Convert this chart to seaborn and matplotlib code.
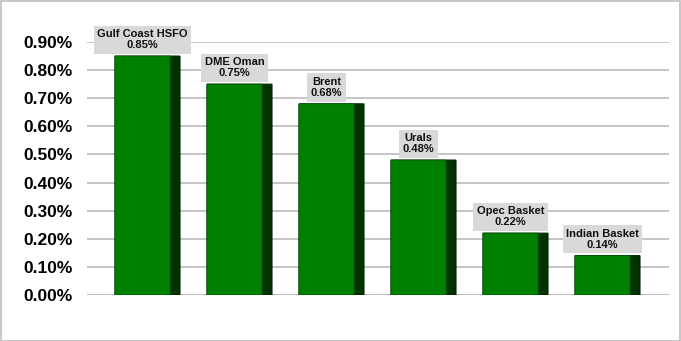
import matplotlib
matplotlib.use("Agg")
import matplotlib.pyplot as plt
import seaborn as sns
import pandas as pd
from matplotlib.patches import Rectangle, FancyBboxPatch
from matplotlib.ticker import FuncFormatter

categories = ["Gulf Coast HSFO", "DME Oman", "Brent", "Urals", "Opec Basket", "Indian Basket"]
values = [0.85, 0.75, 0.68, 0.48, 0.22, 0.14]
yticks = [0.0, 0.1, 0.2, 0.3, 0.4, 0.5, 0.6, 0.7, 0.8, 0.9]

sns.set_theme(style="white")
plt.rcParams['font.family'] = ['Liberation Sans', 'DejaVu Sans']

df = pd.DataFrame({"cat": categories, "val": values})

fig = plt.figure(figsize=(6.81, 3.41), dpi=100)
ax = fig.add_axes([87/681, 1-295/341, (669-87)/681, (295-42)/341])

full_w = 65/92
front_w = 55/92
sns.barplot(data=df, x="cat", y="val", color="#003300", width=full_w,
            saturation=1, ax=ax, zorder=3)

for p, v, lab in zip(ax.patches, values, categories):
    x0 = p.get_x()
    h = p.get_height()
    p.set_visible(False)
    ax.add_patch(FancyBboxPatch((x0, 0), full_w, h,
                                boxstyle="round,pad=0,rounding_size=0.05",
                                mutation_aspect=0.004,
                                facecolor="#003300", edgecolor="#002200",
                                linewidth=0.8, zorder=3))
    ax.add_patch(FancyBboxPatch((x0, 0), front_w, h,
                                boxstyle="round,pad=0,rounding_size=0.04",
                                mutation_aspect=0.004,
                                facecolor="#008000", edgecolor="#006000",
                                linewidth=0.6, zorder=4))
    cx = x0 + front_w/2
    ax.text(cx, h + 0.058, f"{lab}\n{v:.2f}%", ha="center", va="center",
            fontsize=8, fontweight="bold", color="#111111", linespacing=1.15,
            bbox=dict(boxstyle="square,pad=0.32", facecolor="#d9d9d9", edgecolor="none"),
            clip_on=False, zorder=5)

ax.set_xlim((87-147.5)/92, 5 + (669-607.5)/92)
ax.set_ylim(0, 0.9)
ax.set_yticks(yticks)
ax.yaxis.set_major_formatter(FuncFormatter(lambda v, _: f"{v:.2f}%"))
ax.tick_params(axis="y", length=0, pad=10, labelsize=12.5)
for t in ax.get_yticklabels():
    t.set_fontweight("bold")
    t.set_color("black")
ax.set_xticks([])
ax.set_xlabel("")
ax.set_ylabel("")
ax.grid(axis="y", color="#c0c0c0", linewidth=1.3, zorder=0)
ax.set_axisbelow(True)
for s in ax.spines.values():
    s.set_visible(False)
ax.axhline(0, color="#c0c0c0", linewidth=1.3, zorder=1)

fig.patches.append(Rectangle((0.5/681, 0.5/341), 1-1.5/681, 1-1.5/341,
                             transform=fig.transFigure, fill=False,
                             edgecolor="#bfbfbf", linewidth=1.2))

fig.savefig("out.png", dpi=100)
